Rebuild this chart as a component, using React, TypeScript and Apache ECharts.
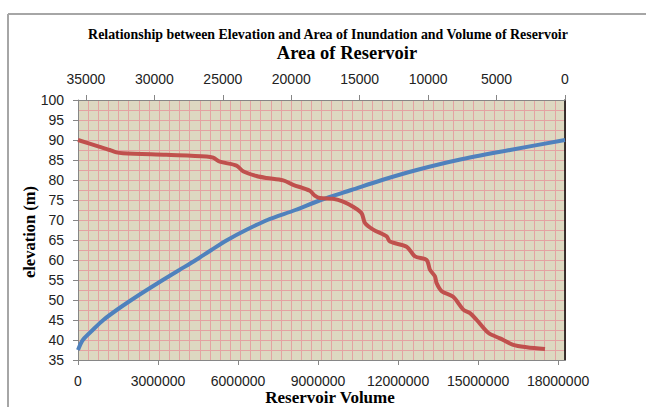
import React, { useEffect, useRef } from "react";
import * as echarts from "echarts";

// Reservoir volume (m³) vs elevation (m) — bottom axis
const volumeValues = [0, 180000, 550000, 950000, 1450000, 2000000, 2580000, 3180000, 3800000, 4420000, 5000000, 5600000, 6300000, 7100000, 8150000, 9100000, 10250000, 11400000, 12700000, 14250000, 16200000, 18260000];
const volumeElevations = [37.5, 40, 42.5, 45, 47.5, 50, 52.5, 55, 57.5, 60, 62.5, 65, 67.5, 70, 72.5, 75, 77.5, 80, 82.5, 85, 87.5, 90];

// Area of reservoir vs elevation — top axis (reversed)
const areaValues = [35580, 33990, 33260, 32770, 32290, 29120, 26190, 25710, 25220, 24000, 23520, 22540, 21810, 20590, 19860, 18640, 18280, 17910, 16940, 16210, 15480, 14860, 14620, 14010, 13030, 12790, 11570, 10960, 10110, 9870, 9500, 9380, 9010, 8170, 7430, 6940, 6450, 5610, 4750, 3780, 2800, 1460];
const areaElevations = [90, 88.3, 87.5, 86.9, 86.7, 86.3, 85.9, 85.6, 84.6, 83.6, 82.2, 81.0, 80.5, 79.9, 78.8, 77.3, 76.1, 75.5, 75.3, 74.6, 73.3, 71.7, 69.3, 67.6, 65.9, 64.6, 63.3, 60.9, 60.0, 57.6, 55.9, 54.2, 52.2, 50.8, 47.6, 46.7, 45.0, 41.8, 40.4, 38.8, 38.2, 37.75];

const titleText = "Relationship between Elevation and Area of Inundation and Volume of Reservoir";
const topAxisName = "Area of Reservoir";
const bottomAxisName = "Reservoir Volume";
const yAxisName = "elevation (m)";

export default function App() {
  const ref = useRef<HTMLDivElement>(null);
  useEffect(() => {
    document.body.style.margin = "0";
    const chart = echarts.init(ref.current!, null, { renderer: "svg" });
    const sans = "Liberation Sans";
    const serif = "Liberation Serif";
    const plain = (v: number) => String(v);
    const labelStyle = { fontFamily: sans, fontSize: 14, color: "#222", formatter: plain };
    const gridLine = { show: true, lineStyle: { color: "#e4a2a2", width: 1 } };
    chart.setOption({
      animation: false,
      backgroundColor: "#ffffff",
      grid: {
        left: 78, top: 100, right: 81, bottom: 47,
        show: true, backgroundColor: "#ddd8c1", borderWidth: 0,
      },
      xAxis: [
        {
          type: "value", position: "bottom", min: 0, max: 18260000, interval: 3000000,
          axisLine: { show: true, lineStyle: { color: "#868686", width: 1 } },
          axisTick: { show: true, length: 5, lineStyle: { color: "#868686" } },
          axisLabel: { ...labelStyle, margin: 14, showMaxLabel: false },
          splitLine: { show: false },
        },
        {
          type: "value", position: "top", inverse: true, min: 0, max: 35580, interval: 5000,
          axisLine: { show: true, lineStyle: { color: "#868686", width: 1 } },
          axisTick: { show: true, length: 5, lineStyle: { color: "#868686" } },
          axisLabel: { ...labelStyle, margin: 14, showMaxLabel: false },
          splitLine: { show: false },
        },
        {
          type: "value", position: "bottom", min: 0, max: 48, interval: 1,
          axisLine: { show: false }, axisTick: { show: false }, axisLabel: { show: false },
          splitLine: gridLine,
        },
      ],
      yAxis: [
        {
          type: "value", position: "left", min: 35, max: 100, interval: 5,
          axisLine: { show: true, lineStyle: { color: "#868686", width: 1 } },
          axisTick: { show: true, length: 5, lineStyle: { color: "#868686" } },
          axisLabel: { ...labelStyle, margin: 14 },
          splitLine: { show: false },
        },
        {
          type: "value", position: "right", min: 35, max: 100, interval: 2.5,
          axisLine: { show: true, lineStyle: { color: "#000000", width: 1.5 } },
          axisTick: { show: false }, axisLabel: { show: false },
          splitLine: gridLine,
        },
      ],
      series: [
        {
          type: "line", xAxisIndex: 0, yAxisIndex: 0,
          data: volumeValues.map((v, i) => [v, volumeElevations[i]]),
          showSymbol: false, smooth: 0.3,
          lineStyle: { color: "#4f81bd", width: 4 },
          itemStyle: { color: "#4f81bd" },
          z: 3,
        },
        {
          type: "line", xAxisIndex: 1, yAxisIndex: 0,
          data: areaValues.map((v, i) => [v, areaElevations[i]]),
          showSymbol: false, smooth: 0.3,
          lineStyle: { color: "#c0504d", width: 4 },
          itemStyle: { color: "#c0504d" },
          z: 4,
        },
      ],
      graphic: [
        { type: "line", shape: { x1: 8, y1: 14, x2: 646, y2: 14 }, style: { stroke: "#a6a6a6", lineWidth: 2 } },
        { type: "line", shape: { x1: 8, y1: 14, x2: 8, y2: 407 }, style: { stroke: "#a6a6a6", lineWidth: 2 } },
        {
          type: "text", x: 328, y: 34,
          style: { text: titleText, font: `bold 13.9px "${serif}"`, fill: "#000", textAlign: "center", textVerticalAlign: "middle" },
        },
        {
          type: "text", x: 347, y: 53,
          style: { text: topAxisName, font: `bold 18.5px "${serif}"`, fill: "#000", textAlign: "center", textVerticalAlign: "middle" },
        },
        {
          type: "text", x: 330, y: 397,
          style: { text: bottomAxisName, font: `bold 17px "${serif}"`, fill: "#000", textAlign: "center", textVerticalAlign: "middle" },
        },
        {
          type: "text", x: 29, y: 232, rotation: Math.PI / 2,
          style: { text: yAxisName, font: `bold 16.5px "${serif}"`, fill: "#000", textAlign: "center", textVerticalAlign: "middle" },
        },
      ],
    });
    return () => chart.dispose();
  }, []);
  return <div ref={ref} style={{ width: 646, height: 407 }} />;
}
